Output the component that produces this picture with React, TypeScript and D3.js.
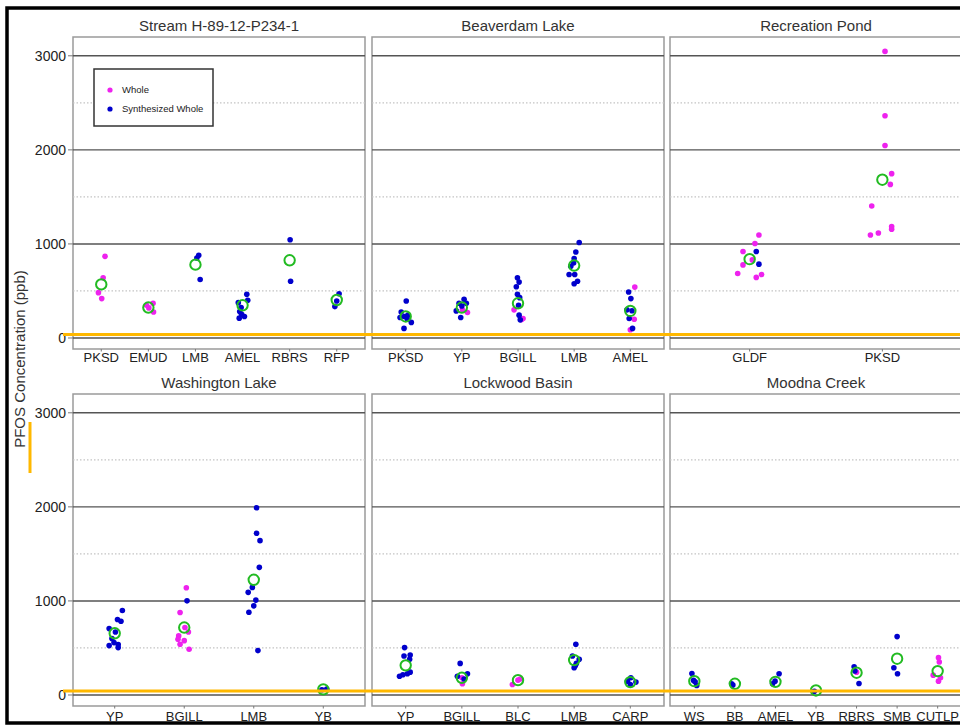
import React from 'react';
import * as d3 from 'd3';

// [species, PFOS ppb, jitter (in category units)]
type Pt = [string, number, number];

const streamCats = ['PKSD', 'EMUD', 'LMB', 'AMEL', 'RBRS', 'RFP'];
const streamWhole: Pt[] = [
  ['PKSD', 868, 0.08], ['PKSD', 640, 0.04], ['PKSD', 482, -0.06], ['PKSD', 419, 0.01],
  ['EMUD', 348, -0.04], ['EMUD', 369, 0.1], ['EMUD', 277, 0.11], ['EMUD', 320, 0.01],
];
const streamSynth: Pt[] = [
  ['LMB', 879, 0.07], ['LMB', 851, 0.03], ['LMB', 622, 0.1],
  ['AMEL', 464, 0.09], ['AMEL', 401, 0.11], ['AMEL', 376, -0.09], ['AMEL', 324, -0.03],
  ['AMEL', 282, -0.06], ['AMEL', 253, -0.02], ['AMEL', 211, -0.07], ['AMEL', 229, 0.04],
  ['RBRS', 1044, 0.01], ['RBRS', 604, 0.02],
  ['RFP', 471, 0.05], ['RFP', 393, 0], ['RFP', 334, -0.04],
];
const streamMean = [570, 324, 780, 348, 826, 404];

const beaverCats = ['PKSD', 'YP', 'BGILL', 'LMB', 'AMEL'];
const beaverWhole: Pt[] = [
  ['YP', 271, 0.1], ['YP', 300, 0.01],
  ['BGILL', 299, -0.07], ['BGILL', 208, 0.09], ['BGILL', 195, 0.06],
  ['AMEL', 541, 0.08], ['AMEL', 200, 0.07], ['AMEL', 88, 0],
];
const beaverSynth: Pt[] = [
  ['PKSD', 394, 0.01], ['PKSD', 277, -0.08], ['PKSD', 243, 0.04], ['PKSD', 229, -0.02],
  ['PKSD', 218, -0.1], ['PKSD', 166, 0.1], ['PKSD', 102, -0.03], ['PKSD', 200, 0.03],
  ['YP', 411, 0.04], ['YP', 369, 0.08], ['YP', 369, -0.05], ['YP', 288, -0.1], ['YP', 340, 0], ['YP', 218, -0.02],
  ['BGILL', 640, -0.01], ['BGILL', 594, 0.02], ['BGILL', 545, -0.03], ['BGILL', 464, -0.01],
  ['BGILL', 429, 0.03], ['BGILL', 348, 0.01], ['BGILL', 243, 0.02], ['BGILL', 193, 0.04],
  ['LMB', 1016, 0.09], ['LMB', 914, 0.03], ['LMB', 844, 0], ['LMB', 798, -0.01], ['LMB', 763, -0.06],
  ['LMB', 675, -0.09], ['LMB', 675, 0.01], ['LMB', 604, 0.06], ['LMB', 577, 0],
  ['AMEL', 489, -0.03], ['AMEL', 419, 0.01], ['AMEL', 299, -0.06], ['AMEL', 290, 0.03],
  ['AMEL', 208, -0.02], ['AMEL', 102, 0.04],
];
const beaverMean = [229, 324, 369, 770, 288];

const recCats = ['GLDF', 'PKSD'];
const recWhole: Pt[] = [
  ['GLDF', 1095, 0.07], ['GLDF', 1004, 0.04], ['GLDF', 919, -0.05], ['GLDF', 777, -0.05],
  ['GLDF', 686, -0.09], ['GLDF', 644, 0.05], ['GLDF', 675, 0.09], ['GLDF', 830, 0.02],
  ['PKSD', 3047, 0.02], ['PKSD', 2362, 0.02], ['PKSD', 2047, 0.02], ['PKSD', 1747, 0.07],
  ['PKSD', 1633, 0.06], ['PKSD', 1403, -0.08], ['PKSD', 1185, 0.07], ['PKSD', 1156, 0.07],
  ['PKSD', 1117, -0.03], ['PKSD', 1095, -0.09],
];
const recSynth: Pt[] = [['GLDF', 919, 0.05], ['GLDF', 785, 0.07]];
const recMean = [838, 1683];

const washCats = ['YP', 'BGILL', 'LMB', 'YB'];
const washWhole: Pt[] = [
  ['BGILL', 1140, 0.03], ['BGILL', 877, -0.06], ['BGILL', 717, 0.01], ['BGILL', 670, 0.06],
  ['BGILL', 628, -0.08], ['BGILL', 592, -0.09], ['BGILL', 578, 0], ['BGILL', 539, -0.06], ['BGILL', 486, 0.07],
];
const washSynth: Pt[] = [
  ['YP', 899, 0.11], ['YP', 803, 0.04], ['YP', 784, 0.09], ['YP', 706, -0.08], ['YP', 600, -0.04],
  ['YP', 670, 0.01], ['YP', 525, -0.08], ['YP', 536, 0.05], ['YP', 504, 0.05], ['YP', 557, -0.01],
  ['BGILL', 1001, 0.04],
  ['LMB', 1990, 0.04], ['LMB', 1720, 0.04], ['LMB', 1641, 0.09], ['LMB', 1357, 0.08], ['LMB', 1144, -0.02],
  ['LMB', 1091, -0.08], ['LMB', 1009, 0.03], ['LMB', 948, 0], ['LMB', 880, -0.07], ['LMB', 472, 0.06],
  ['YB', 55, -0.02], ['YB', 62, 0.05],
];
const washMean = [656, 717, 1225, 60];

const lockCats = ['YP', 'BGILL', 'BLC', 'LMB', 'CARP'];
const lockWhole: Pt[] = [
  ['BGILL', 183, 0], ['BGILL', 119, 0.01],
  ['BLC', 158, 0], ['BLC', 112, -0.1], ['BLC', 170, 0.04],
];
const lockSynth: Pt[] = [
  ['YP', 504, -0.02], ['YP', 414, -0.03], ['YP', 425, 0.08], ['YP', 379, 0.07],
  ['YP', 243, 0.08], ['YP', 226, 0.03], ['YP', 200, -0.11], ['YP', 215, -0.05],
  ['BGILL', 336, -0.03], ['BGILL', 226, 0.1], ['BGILL', 200, -0.08], ['BGILL', 170, 0.04],
  ['LMB', 539, 0.03], ['LMB', 414, -0.03], ['LMB', 379, 0.09], ['LMB', 336, 0.04], ['LMB', 290, 0], ['LMB', 310, 0.02],
  ['CARP', 183, 0.01], ['CARP', 147, -0.05], ['CARP', 137, 0.1], ['CARP', 112, 0],
];
const lockMean = [315, 183, 158, 371, 137];

const moodCats = ['WS', 'BB', 'AMEL', 'YB', 'RBRS', 'SMB', 'CUTLP'];
const moodWhole: Pt[] = [
  ['RBRS', 243, 0],
  ['CUTLP', 397, 0.02], ['CUTLP', 350, 0.04], ['CUTLP', 211, -0.11], ['CUTLP', 183, 0.07], ['CUTLP', 147, 0.02],
];
const moodSynth: Pt[] = [
  ['WS', 229, -0.06], ['WS', 155, -0.02], ['WS', 101, 0.06], ['WS', 140, 0.02],
  ['BB', 119, -0.08], ['BB', 105, -0.05],
  ['AMEL', 226, 0.09], ['AMEL', 147, -0.01], ['AMEL', 119, -0.07],
  ['YB', 40, -0.04],
  ['RBRS', 300, -0.06], ['RBRS', 255, -0.04], ['RBRS', 123, 0.06],
  ['SMB', 621, 0], ['SMB', 290, -0.08], ['SMB', 226, 0.01],
];
const moodMean = [147, 119, 140, 48, 237, 386, 254];

const yTicks = [0, 1000, 2000, 3000];
const yMinor = [500, 1500, 2500];

const panels = [
  { title: 'Stream H-89-12-P234-1', cats: streamCats, whole: streamWhole, synth: streamSynth, mean: streamMean },
  { title: 'Beaverdam Lake', cats: beaverCats, whole: beaverWhole, synth: beaverSynth, mean: beaverMean },
  { title: 'Recreation Pond', cats: recCats, whole: recWhole, synth: recSynth, mean: recMean },
  { title: 'Washington Lake', cats: washCats, whole: washWhole, synth: washSynth, mean: washMean },
  { title: 'Lockwood Basin', cats: lockCats, whole: lockWhole, synth: lockSynth, mean: lockMean },
  { title: 'Moodna Creek', cats: moodCats, whole: moodWhole, synth: moodSynth, mean: moodMean },
];

const colX = [73, 372, 670];
const rowY = [37, 394];
const labelGap = [13, 14.5];
const panelW = 292;
const panelH = 312;
const font = '"Liberation Sans", Arial, Helvetica, sans-serif';
const MAGENTA = '#ee22ee';
const BLUE = '#0000cc';
const GREEN = '#22bb22';
const ORANGE = '#ffb800';

const y = d3.scaleLinear().domain([-117, 3200]).range([panelH, 0]);

function Panel({ p, col, row }: { p: typeof panels[number]; col: number; row: number }) {
  const x = d3.scalePoint<string>().domain(p.cats).range([0, panelW]).padding(0.6);
  const px = (d: Pt) => (x(d[0]) as number) + d[2] * x.step();
  return (
    <g transform={`translate(${colX[col]},${rowY[row]})`}>
      <text x={panelW / 2} y={-6} textAnchor="middle" fontSize={15} fill="#333">{p.title}</text>
      <rect x={0} y={0} width={panelW} height={panelH} fill="#fff" stroke="#9a9a9a" strokeWidth={1.5} />
      {yMinor.map(v => (
        <line key={'m' + v} x1={0} x2={panelW} y1={y(v)} y2={y(v)} stroke="#c4c4c4" strokeWidth={1.2} strokeDasharray="1.5 2" />
      ))}
      {yTicks.map(v => (
        <line key={'g' + v} x1={0} x2={panelW} y1={y(v)} y2={y(v)} stroke="#555" strokeWidth={1.4} />
      ))}
      {col === 0 && yTicks.map(v => (
        <g key={'t' + v}>
          <line x1={-5} x2={0} y1={y(v)} y2={y(v)} stroke="#777" strokeWidth={1} />
          <text x={-7} y={y(v)} dy="0.35em" textAnchor="end" fontSize={14} fill="#222">{v}</text>
        </g>
      ))}
      {p.cats.map(c => (
        <g key={'x' + c}>
          <line x1={x(c)} x2={x(c)} y1={panelH} y2={panelH + 2.5} stroke="#777" strokeWidth={1} />
          <text x={x(c)} y={panelH + labelGap[row]} textAnchor="middle" fontSize={13} fill="#222">{c}</text>
        </g>
      ))}
      {p.whole.map((d, i) => (
        <circle key={'w' + i} cx={px(d)} cy={y(d[1])} r={2.8} fill={MAGENTA} />
      ))}
      {p.synth.map((d, i) => (
        <circle key={'s' + i} cx={px(d)} cy={y(d[1])} r={2.8} fill={BLUE} />
      ))}
      {p.mean.map((v, i) => (
        <circle key={'a' + i} cx={x(p.cats[i])} cy={y(v)} r={5.2} fill="none" stroke={GREEN} strokeWidth={2} />
      ))}
    </g>
  );
}

export default function App() {
  return (
    <div style={{ position: 'absolute', left: 0, top: 0 }}>
      <svg width={960} height={725} style={{ display: 'block', fontFamily: font, background: '#fff' }}>
        <rect x={7} y={8} width={980} height={715} fill="#fff" stroke="#000" strokeWidth={3.5} />
        {panels.map((p, i) => (
          <Panel key={p.title} p={p} col={i % 3} row={Math.floor(i / 3)} />
        ))}
        <g transform={`translate(${colX[0] + 21},${rowY[0] + 32})`}>
          <rect x={0} y={0} width={119} height={57} fill="#fff" stroke="#333" strokeWidth={1.5} />
          <circle cx={16} cy={21} r={2.6} fill={MAGENTA} />
          <text x={28} y={21} dy="0.35em" fontSize={9.5} fill="#222">Whole</text>
          <circle cx={16} cy={40} r={2.6} fill={BLUE} />
          <text x={28} y={40} dy="0.35em" fontSize={9.5} fill="#222">Synthesized Whole</text>
        </g>
        <text transform="translate(25,359) rotate(-90)" textAnchor="middle" fontSize={15} fill="#333">
          PFOS Concentration (ppb)
        </text>
        <line x1={63} x2={960} y1={334.5} y2={334.5} stroke={ORANGE} strokeWidth={3} />
        <line x1={63} x2={960} y1={691} y2={691} stroke={ORANGE} strokeWidth={3} />
        <line x1={30} x2={30} y1={422} y2={473} stroke={ORANGE} strokeWidth={3} />
      </svg>
    </div>
  );
}
